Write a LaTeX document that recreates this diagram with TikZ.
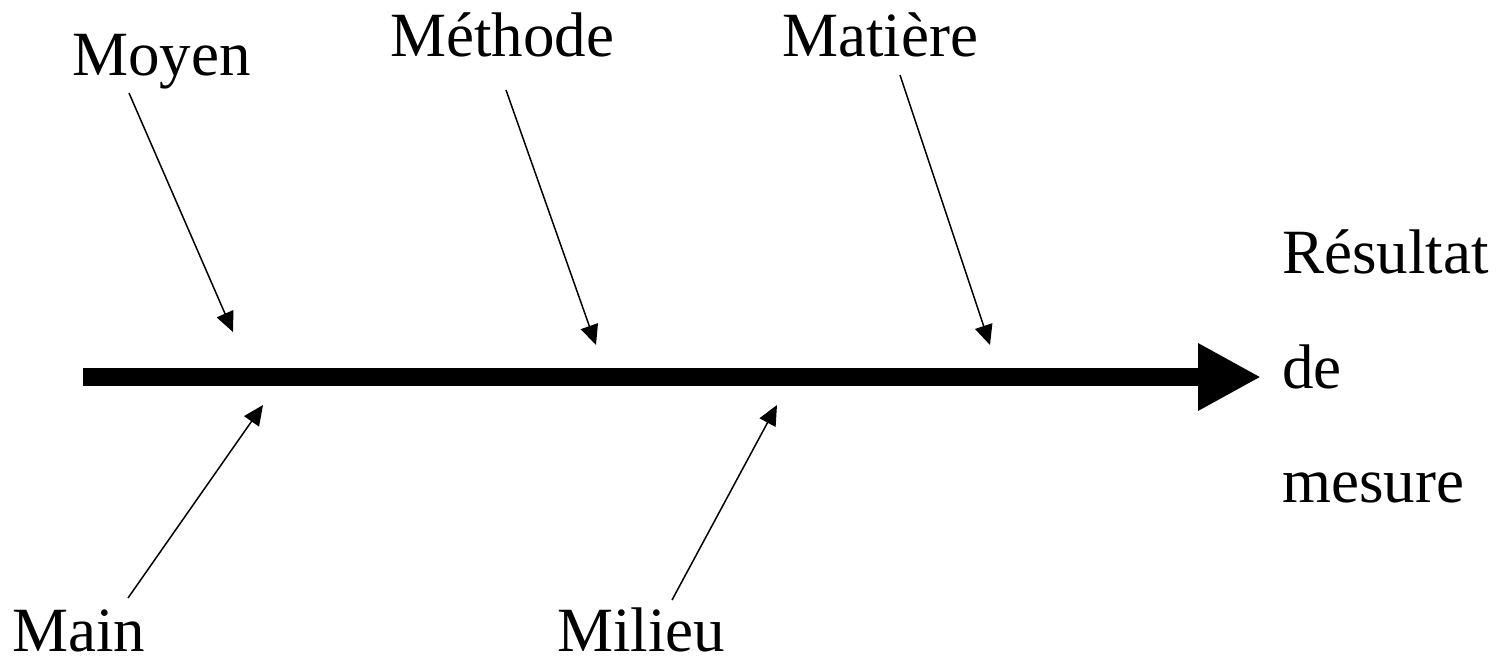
\documentclass[tikz,border=0pt]{standalone}
\usepackage{fontspec}
\setmainfont{Liberation Serif}
\usetikzlibrary{arrows.meta}
\begin{document}
\begin{tikzpicture}[x=1pt,y=-1pt,
  lbl/.style={anchor=base west,inner sep=0pt,font=\fontsize{63}{75}\selectfont},
  cause/.style={line width=1.5pt,-{Triangle[length=20pt,width=18pt]}},
  spine/.style={line width=18pt,-{Triangle[length=63pt,width=63pt]}}]
\useasboundingbox (0,0) rectangle (1496,662);
% labels
\node[lbl] (moyen) at (72,75) {Moyen};
\node[lbl] (methode) at (390,56) {Méthode};
\node[lbl] (matiere) at (782,56) {Matière};
\node[lbl] (main) at (12,651) {Main};
\node[lbl] (milieu) at (557,651) {Milieu};
\node[lbl] (res1) at (1282,273) {Résultat};
\node[lbl] (res2) at (1282,388) {de};
\node[lbl] (res3) at (1282,502) {mesure};
% spine
\coordinate (s0) at (83,377);
\coordinate (s1) at (1261,377);
\draw[spine] (s0) -- (s1);
% cause arrows
\coordinate (a0) at (129,93);  \coordinate (a1) at (233,332);
\coordinate (b0) at (506,90);  \coordinate (b1) at (596,345);
\coordinate (c0) at (900,75);  \coordinate (c1) at (990,345);
\coordinate (d0) at (128,598); \coordinate (d1) at (263,405);
\coordinate (e0) at (672,600); \coordinate (e1) at (777,405);
\draw[cause] (a0) -- (a1);
\draw[cause] (b0) -- (b1);
\draw[cause] (c0) -- (c1);
\draw[cause] (d0) -- (d1);
\draw[cause] (e0) -- (e1);
\end{tikzpicture}
\end{document}
